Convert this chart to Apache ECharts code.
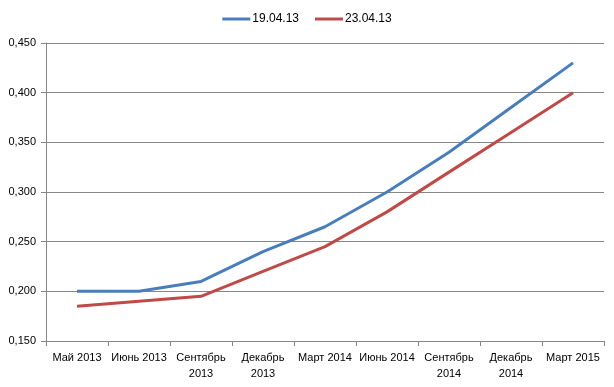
<!DOCTYPE html>
<html>
<head>
<meta charset="utf-8">
<script src="https://cdn.jsdelivr.net/npm/echarts@6/dist/echarts.min.js"></script>
<style>html,body{margin:0;padding:0;background:#fff;}#c{width:614px;height:387px;}</style>
</head>
<body>
<div id="c"></div>
<script>
const categories = ['Май 2013','Июнь 2013','Сентябрь 2013','Декабрь 2013','Март 2014','Июнь 2014','Сентябрь 2014','Декабрь 2014','Март 2015'];
const seriesNames = ['19.04.13','23.04.13'];
const s1 = [0.200,0.200,0.210,0.240,0.265,0.300,0.340,0.385,0.430];
const s2 = [0.185,0.190,0.195,0.220,0.245,0.280,0.320,0.360,0.400];
const yMin = 0.15, yMax = 0.45, yStep = 0.05;

const font = 'Liberation Sans, Arial, sans-serif';
const chart = echarts.init(document.getElementById('c'));
chart.setOption({
  animation: false,
  legend: {
    top: 8, left: 'center',
    itemWidth: 28, itemHeight: 3, itemGap: 16,
    icon: 'rect',
    textStyle: {fontFamily: font, fontSize: 12, color: '#000', padding: [0, 0, 0, -3]},
    data: seriesNames
  },
  grid: {left: 46, right: 10, top: 43, bottom: 46},
  xAxis: {
    type: 'category', data: categories, boundaryGap: true,
    axisLine: {lineStyle: {color: '#868686'}},
    axisTick: {show: true, length: 5, lineStyle: {color: '#868686'}},
    axisLabel: {
      interval: 0, fontFamily: font, fontSize: 11, color: '#000', margin: 9, lineHeight: 16,
      formatter: v => (v.startsWith('Сентябрь') || v.startsWith('Декабрь')) ? v.replace(' ', '\n') : v
    }
  },
  yAxis: {
    type: 'value', min: yMin, max: yMax, interval: yStep,
    axisLine: {show: true, lineStyle: {color: '#868686'}},
    axisTick: {show: true, length: 5, lineStyle: {color: '#868686'}},
    splitLine: {lineStyle: {color: '#868686'}},
    axisLabel: {fontFamily: font, fontSize: 11, color: '#000', margin: 10,
      formatter: v => v.toFixed(3).replace('.', ',')}
  },
  series: [
    {name: seriesNames[0], type: 'line', data: s1, symbol: 'none',
     lineStyle: {width: 3, color: '#4a7ebb'}, itemStyle: {color: '#4a7ebb'}},
    {name: seriesNames[1], type: 'line', data: s2, symbol: 'none',
     lineStyle: {width: 3, color: '#be4b48'}, itemStyle: {color: '#be4b48'}}
  ]
});
</script>
</body>
</html>
